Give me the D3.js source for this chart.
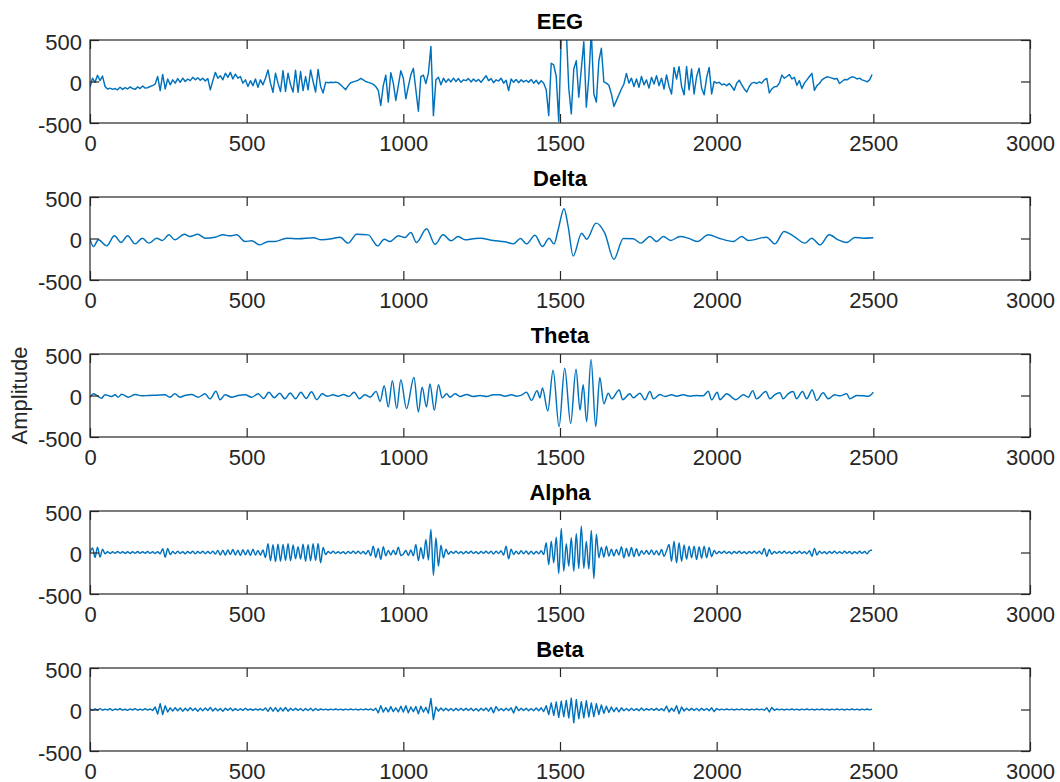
<!DOCTYPE html>
<html><head><meta charset="utf-8">
<script src="https://cdn.jsdelivr.net/npm/d3@7"></script>
<style>body{margin:0;background:#fff}svg{display:block}</style>
</head><body><svg id="c" width="1060" height="782"></svg>
<script>
const titles = ["EEG", "Delta", "Theta", "Alpha", "Beta"];
const xTicks = [0, 500, 1000, 1500, 2000, 2500, 3000];
const yTicks = [-500, 0, 500];
const yLabel = "Amplitude";

// EEG: one value every 8 samples
const eegStep = 8;
const eegValues = [
 -70,40,-10,75,10,65,-60,-90,-80,-95,-85,-100,-70,-95,-75,-90,-65,-85,-95,-65,-85,-55,-80,-75,-60,
 -50,-30,60,-110,85,-90,30,-40,20,-20,35,-10,40,0,30,10,50,20,45,15,40,5,35,-100,10,
 110,40,70,20,100,50,110,30,90,40,60,-20,20,-60,10,-50,30,-70,20,-40,40,140,-20,-130,100,
 -20,-120,130,-120,100,-40,-126,135,-130,120,-110,60,-100,140,0,-126,146,-60,-138,-10,-15,-10,-12,-8,-15,
 -40,-70,-98,-50,-15,-5,5,15,37,20,0,-10,-20,-35,-60,-106,-289,-50,77,-248,106,-20,-228,-50,130,
 40,-208,-60,80,159,-100,-358,60,77,-24,100,423,-411,20,50,-40,40,-10,30,-5,40,0,35,-10,20,
 10,35,-5,30,0,25,-10,30,70,10,35,-15,20,5,40,-20,15,-110,30,-10,25,-15,20,-5,15,
 -10,25,-20,15,-30,10,-20,-100,-411,220,200,60,-480,550,700,620,-80,-390,150,250,-190,150,480,-309,50,
 600,-150,-248,250,400,-4,-20,-45,-150,-300,-230,-160,-90,-30,98,-20,40,-60,30,-70,60,-40,20,-80,50,
 -30,70,-50,40,-90,80,-60,-150,170,30,179,-60,-160,180,-100,150,-150,60,160,-80,-160,50,170,-150,0,
 -20,-10,-40,-30,-50,-25,-60,-106,-20,16,-40,-90,-126,-60,-20,-10,-24,-5,-20,20,37,-138,-90,-65,-60,
 -20,77,40,60,85,30,50,-45,10,-85,-20,20,60,98,-106,-50,-24,20,40,57,50,40,30,37,-24,
 0,24,20,40,57,50,30,40,20,10,-4,20,85
];

// Delta: [sample, amplitude] turning points
const deltaPoints = [
 [0,-8],[11,-97],[27,-16],[53,-89],[78,32],[99,-48],[120,32],[144,-65],[167,4],[188,-56],[213,4],[231,-24],
 [252,44],[271,-16],[301,52],[319,24],[344,52],[367,4],[399,16],[425,44],[447,32],[468,44],[495,-36],[516,-28],
 [542,-77],[569,-36],[590,-36],[628,4],[665,-4],[713,8],[739,-16],[771,-4],[798,16],[824,-56],[851,52],[888,44],
 [918,-89],[939,-8],[957,-36],[984,32],[1005,12],[1024,73],[1042,-48],[1074,117],[1101,-69],[1127,44],[1152,-28],
 [1175,24],[1197,-16],[1223,-4],[1245,4],[1287,-24],[1324,-40],[1351,-65],[1374,0],[1393,-65],[1420,40],[1444,-97],
 [1465,4],[1481,-65],[1494,105],[1513,359],[1526,145],[1542,-210],[1569,64],[1585,-8],[1615,185],[1643,64],[1672,-250],
 [1702,0],[1734,-4],[1758,-56],[1787,24],[1808,-36],[1830,24],[1853,-24],[1883,24],[1909,4],[1938,-36],[1973,44],
 [2010,0],[2053,-36],[2080,24],[2101,-24],[2159,16],[2186,-65],[2215,85],[2244,32],[2282,-56],[2303,4],[2330,-77],
 [2359,44],[2388,-16],[2415,-48],[2441,12],[2468,4],[2500,10]
];

// Theta: [sample, amplitude] turning points
const thetaPoints = [
 [0,-20],[11,20],[37,-32],[48,8],[69,-12],[80,8],[90,-20],[101,16],[122,-20],[144,12],[165,-4],[186,0],[213,4],
 [239,8],[255,-20],[271,20],[287,-20],[303,0],[324,12],[346,-20],[367,20],[383,-40],[402,51],[415,-51],[431,8],
 [452,-20],[473,0],[495,8],[516,-20],[537,20],[554,-35],[571,40],[588,-28],[605,28],[622,-40],[639,30],[656,-40],
 [673,40],[690,-35],[707,45],[724,-50],[741,20],[758,-10],[775,8],[792,-8],[809,12],[826,-12],[843,40],[860,-40],
 [877,10],[894,-20],[913,50],[926,-70],[939,118],[952,-138],[965,178],[979,-158],[992,190],[1010,-158],[1034,217],
 [1048,-198],[1060,99],[1074,-138],[1085,138],[1099,-178],[1112,130],[1124,-28],[1138,20],[1149,-20],[1165,20],
 [1181,-12],[1202,12],[1223,-12],[1245,0],[1266,-12],[1287,8],[1308,8],[1324,-8],[1346,8],[1361,-8],[1377,4],
 [1393,40],[1409,-59],[1427,59],[1436,-28],[1444,91],[1461,-186],[1478,304],[1497,-375],[1515,328],[1534,-336],
 [1551,316],[1564,-178],[1574,130],[1585,-316],[1599,435],[1614,-375],[1627,217],[1640,-99],[1654,28],[1665,-40],
 [1689,67],[1700,-51],[1723,20],[1734,-28],[1755,28],[1771,-51],[1787,47],[1798,-40],[1819,12],[1835,-12],
 [1856,8],[1872,-8],[1893,8],[1915,-8],[1936,0],[1957,-4],[1973,51],[1984,-51],[2002,40],[2010,-51],[2032,20],
 [2061,-51],[2085,8],[2101,-20],[2115,59],[2127,-40],[2157,47],[2170,-40],[2186,12],[2202,32],[2212,-40],
 [2228,20],[2244,47],[2255,-40],[2274,47],[2287,-40],[2305,67],[2319,-59],[2340,32],[2356,-40],[2377,8],
 [2393,-4],[2415,20],[2425,-40],[2447,0],[2468,-4],[2484,-8],[2500,40]
];

// Alpha: one value every 8 samples
const alphaStep = 8;
const alphaValues = [
 0,55,-60,65,-55,40,-15,10,-12,8,-10,12,-8,10,-12,9,-11,8,-10,12,-9,10,-8,11,-10,
 8,-12,10,-15,45,-56,50,-25,12,-14,15,-12,10,-15,12,-10,14,-16,12,-10,15,-14,12,-13,15,
 -18,25,-30,28,-32,30,-25,35,-30,28,-35,32,-28,30,-35,38,-30,25,-32,30,-60,105,-100,95,-110,
 100,-105,98,-95,105,-100,90,-75,70,-80,100,-105,95,-100,105,-95,110,-125,60,-25,12,-10,14,-12,10,
 -12,10,-14,12,-10,14,-12,15,-14,12,-18,25,-40,77,-60,50,-85,70,-40,25,-30,28,-25,65,-35,
 -20,25,-35,30,-40,97,-97,60,-77,157,-90,278,-274,178,-165,89,-65,40,-20,12,-10,14,-12,10,-14,
 12,-10,14,-12,10,-15,12,-10,14,-12,15,-18,14,-12,20,-30,76,-77,40,-25,15,-18,20,-15,18,
 -20,15,-18,12,-15,20,-25,117,-145,137,-125,185,-254,290,-225,105,-165,177,-225,225,-193,318,-190,137,-200,
 265,-314,220,-65,65,-55,75,-45,40,-40,35,-30,70,-65,50,-45,60,-50,45,-40,20,-20,25,-22,30,
 -25,20,-30,35,-45,20,97,-105,137,-125,117,-105,90,-80,77,-65,77,-85,70,-70,77,-65,60,-50,25,
 -15,12,-10,14,-12,10,-14,12,-10,15,-12,10,-14,12,-10,14,-12,15,-20,50,-45,35,-20,12,-10,
 12,-10,14,-12,10,-14,12,-10,14,-12,10,-14,20,-45,50,-30,15,-12,10,-14,12,-10,14,-12,10,
 -12,14,-10,12,-14,10,-12,14,-10,12,-15,20,30
];

// Beta: one value every 8 samples
const betaStep = 8;
const betaValues = [
 5,-10,8,-6,12,-9,4,-7,10,-12,6,-5,9,-8,3,-10,7,-6,11,-9,5,-8,10,-7,6,
 -12,30,-55,70,-60,45,-30,20,-18,22,-15,18,-20,14,-16,20,-12,15,-22,16,-14,18,-12,25,-18,
 14,-16,12,-20,15,-10,18,-14,10,-12,8,-10,15,-8,6,-9,7,-6,8,-10,18,-22,25,-20,22,
 -25,20,-18,24,-20,15,-12,14,-10,12,-15,10,-12,16,-14,12,-10,6,-5,4,-6,5,-4,6,-5,
 4,-6,5,-4,6,-5,4,-6,5,-4,6,-5,8,-12,15,-40,45,-30,22,-28,35,-25,20,-30,40,
 -30,45,-40,30,-25,35,-50,40,-30,25,-45,133,-121,30,-20,18,-15,16,-14,12,-16,14,-12,15,-13,
 14,-12,16,-15,12,-18,15,-13,18,-20,25,-40,35,-15,12,-14,16,-12,20,-42,38,-15,14,-12,16,
 -14,12,-15,18,-16,20,-25,45,-60,80,-70,90,-95,100,-85,110,-100,135,-160,120,-110,95,-100,105,-90,
 80,-85,70,-60,55,-45,40,-35,30,-25,22,-28,20,-15,12,-14,16,-12,10,-14,18,-12,10,-8,12,
 -10,14,-12,10,-15,40,-30,15,-20,45,-50,30,-18,15,-12,14,-10,12,-15,14,-10,12,-14,20,-25,
 12,-6,5,-4,6,-5,4,-6,5,-4,7,-5,4,-6,5,-4,6,-5,4,-8,20,-30,25,-10,6,
 -5,4,-6,5,-4,6,-5,4,-6,5,-4,6,-5,4,-6,5,-4,6,-5,4,-6,5,-4,6,-5,
 4,-6,5,-4,6,-5,4,-6,5,-4,6,-5,4
];

const series = [
  {data: eegValues.map((v, i) => [i * eegStep, v]), curve: d3.curveLinear},
  {data: deltaPoints, curve: d3.curveMonotoneX},
  {data: thetaPoints, curve: d3.curveMonotoneX},
  {data: alphaValues.map((v, i) => [i * alphaStep, v]), curve: d3.curveMonotoneX},
  {data: betaValues.map((v, i) => [i * betaStep, v]), curve: d3.curveLinear}
];

const left = 90, right = 1030, plotH = 83;
const tops = [40, 197, 354, 511, 668];
const axisColor = "#262626";
const lineColor = "#0072BD";
const font = "'Liberation Sans', Arial, Helvetica, sans-serif";

const svg = d3.select("#c");
const defs = svg.append("defs");
const x = d3.scaleLinear().domain([0, 3000]).range([left, right]);

series.forEach((s, i) => {
  const top = tops[i];
  const y = d3.scaleLinear().domain([-500, 500]).range([top + plotH, top]);
  const g = svg.append("g");

  defs.append("clipPath").attr("id", "clip" + i)
    .append("rect").attr("x", left).attr("y", top).attr("width", right - left).attr("height", plotH);

  g.append("path")
    .datum(s.data)
    .attr("clip-path", `url(#clip${i})`)
    .attr("fill", "none")
    .attr("stroke", lineColor)
    .attr("stroke-width", 1.45)
    .attr("stroke-linejoin", "round")
    .attr("d", d3.line().x(d => x(d[0])).y(d => y(d[1])).curve(s.curve));

  const fmt = d => String(d);
  const axB = g.append("g").attr("transform", `translate(0,${top + plotH})`)
    .call(d3.axisBottom(x).tickValues(xTicks).tickFormat(fmt).tickSizeInner(-9).tickSizeOuter(0).tickPadding(12));
  const axT = g.append("g").attr("transform", `translate(0,${top})`)
    .call(d3.axisTop(x).tickValues(xTicks).tickFormat("").tickSizeInner(-9).tickSizeOuter(0));
  const axL = g.append("g").attr("transform", `translate(${left},0)`)
    .call(d3.axisLeft(y).tickValues(yTicks).tickFormat(fmt).tickSizeInner(-9).tickSizeOuter(0).tickPadding(8));
  const axR = g.append("g").attr("transform", `translate(${right},0)`)
    .call(d3.axisRight(y).tickValues(yTicks).tickFormat("").tickSizeInner(-9).tickSizeOuter(0));
  [axB, axT, axL, axR].forEach(a => {
    a.select(".domain").remove();
    a.selectAll("line").attr("stroke", axisColor).attr("stroke-width", 1.2);
    a.selectAll("text").attr("fill", axisColor).style("font-family", font).style("font-size", "22px");
  });
  axL.selectAll("text").attr("dy", "0.42em");

  g.append("rect")
    .attr("x", left).attr("y", top).attr("width", right - left).attr("height", plotH)
    .attr("fill", "none").attr("stroke", axisColor).attr("stroke-width", 1.2);

  g.append("text")
    .attr("x", (left + right) / 2).attr("y", top - 11)
    .attr("text-anchor", "middle")
    .style("font-family", font).style("font-size", "22px").style("font-weight", "bold")
    .attr("fill", "#000")
    .text(titles[i]);
});

svg.append("text")
  .attr("transform", `translate(27,${(tops[0] + tops[4] + plotH) / 2}) rotate(-90)`)
  .attr("text-anchor", "middle")
  .style("font-family", font).style("font-size", "22px")
  .attr("fill", axisColor)
  .text(yLabel);
</script></body></html>
